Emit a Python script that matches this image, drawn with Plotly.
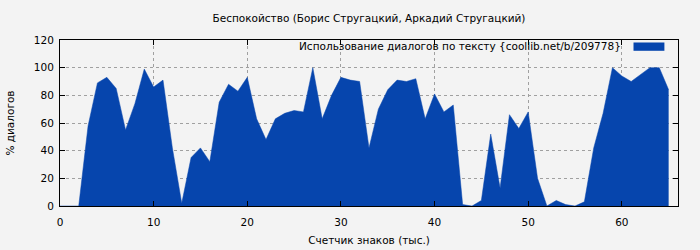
import plotly.graph_objects as go

x_k = list(range(0, 66))
usage = [0, 0, 0, 58, 89, 93, 85, 55, 74, 99, 86, 91, 42, 2, 35, 42, 32, 75, 88, 83,
         93, 63, 48, 63, 67, 69, 68, 100, 63, 80, 93, 91, 90, 42, 70, 84, 91, 90, 92, 63,
         81, 68, 73, 1, 0, 4, 52, 13, 66, 56, 68, 20, 0, 4, 1, 0, 3, 42, 67, 100,
         94, 90, 95, 100, 100, 84]

title = "Беспокойство (Борис Стругацкий, Аркадий Стругацкий)"
legend_text = "Использование диалогов по тексту {coollib.net/b/209778}"
x_title = "Счетчик знаков (тыс.)"
y_title = "% диалогов"
x_ticks = [0, 10, 20, 30, 40, 50, 60]
y_ticks = [0, 20, 40, 60, 80, 100, 120]

blue = "#0645ad"
bg = "#f3f3f3"
font = "DejaVu Sans"
fs = 10.5

fig = go.Figure()
fig.add_trace(go.Scatter(x=x_k, y=usage, mode="lines", fill="tozeroy",
                         line=dict(color=blue, width=0.5), fillcolor=blue,
                         showlegend=False, hoverinfo="skip"))

axis_common = dict(showline=True, linecolor="black", linewidth=1, mirror="ticks",
                   ticks="inside", ticklen=5, tickcolor="black", automargin=False,
                   showgrid=True, gridcolor="#a0a0a0", griddash="dot", gridwidth=1,
                   zeroline=False, tickfont=dict(family=font, size=fs, color="black"))

fig.update_layout(
    width=700, height=250,
    margin=dict(l=60, r=22, t=40, b=44),
    paper_bgcolor=bg, plot_bgcolor=bg,
    title=dict(text=title, xref="paper", x=0.5, xanchor="center", y=0.925, yanchor="middle",
               font=dict(family=font, size=fs, color="black")),
    xaxis=dict(range=[0, 66], tickvals=x_ticks, ticklabelstandoff=6, **axis_common,
               title=dict(text=x_title, font=dict(family=font, size=fs, color="black"), standoff=10)),
    yaxis=dict(range=[0, 120], tickvals=y_ticks, ticklabelstandoff=3, **axis_common,
               title=dict(text=y_title, font=dict(family=font, size=fs, color="black"), standoff=17)),
)

fig.add_annotation(xref="paper", yref="paper", x=0.911, y=0.965, xanchor="right", yanchor="middle",
                   text=legend_text, showarrow=False,
                   font=dict(family=font, size=fs, color="black"))
fig.add_shape(type="rect", xref="paper", yref="paper", x0=0.928, x1=0.978, y0=0.935, y1=0.985,
              fillcolor=blue, line=dict(width=0))

fig.write_html("out.html")
